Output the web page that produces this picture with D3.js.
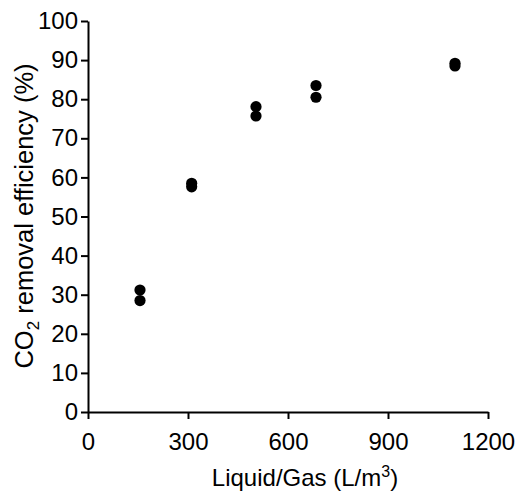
<!DOCTYPE html>
<html>
<head>
<meta charset="utf-8">
<script src="https://cdn.jsdelivr.net/npm/d3@7"></script>
<style>
  html, body { margin: 0; padding: 0; background: #fff; }
  svg { display: block; }
  text { font-family: "Liberation Sans", Arial, sans-serif; fill: #000; }
</style>
</head>
<body>
<svg id="chart" width="522" height="491"></svg>
<script>
// Liquid/gas ratio (L/m3) and measured CO2 removal efficiency (%), duplicate runs
const liquidGas = [156, 156, 311, 311, 504, 504, 684, 684, 1101, 1101];
const removalEff = [31.2, 28.5, 58.5, 57.6, 78.1, 75.7, 83.5, 80.5, 89.2, 88.5];

const xTicks = [0, 300, 600, 900, 1200];
const yTicks = [0, 10, 20, 30, 40, 50, 60, 70, 80, 90, 100];

const svg = d3.select("#chart");

const x = d3.scaleLinear().domain([0, 1200]).range([88, 488]);
const y = d3.scaleLinear().domain([0, 100]).range([412, 21]);

const xAxis = d3.axisBottom(x)
  .tickValues(xTicks)
  .tickFormat(d3.format("d"))
  .tickSize(7)
  .tickSizeOuter(0)
  .tickPadding(14);

const yAxis = d3.axisLeft(y)
  .tickValues(yTicks)
  .tickFormat(d3.format("d"))
  .tickSize(7)
  .tickSizeOuter(0)
  .tickPadding(3);

const gx = svg.append("g")
  .attr("transform", `translate(0,${y(0)})`)
  .call(xAxis);

const gy = svg.append("g")
  .attr("transform", `translate(${x(0)},0)`)
  .call(yAxis);

[gx, gy].forEach(g => {
  g.select(".domain").attr("stroke", "#000").attr("stroke-width", 2);
  g.selectAll(".tick line").attr("stroke", "#000").attr("stroke-width", 2);
  g.selectAll(".tick text")
    .attr("font-size", 24)
    .attr("font-family", "'Liberation Sans', Arial, sans-serif")
    .attr("fill", "#000");
});

// data points
svg.append("g")
  .selectAll("circle")
  .data(liquidGas.map((d, i) => ({ lg: d, eff: removalEff[i] })))
  .join("circle")
  .attr("cx", d => x(d.lg))
  .attr("cy", d => y(d.eff))
  .attr("r", 5.6)
  .attr("fill", "#000");

// x-axis title
const xt = svg.append("text")
  .attr("x", 305)
  .attr("y", 486)
  .attr("text-anchor", "middle")
  .attr("font-size", 24);
xt.append("tspan").text("Liquid/Gas (L/m");
xt.append("tspan").attr("font-size", 16).attr("dy", -9).text("3");
xt.append("tspan").attr("dy", 9).text(")");

// y-axis title
const yt = svg.append("text")
  .attr("transform", `translate(33,216) rotate(-90)`)
  .attr("text-anchor", "middle")
  .attr("font-size", 25.5);
yt.append("tspan").text("CO");
yt.append("tspan").attr("font-size", 17).attr("dy", 6).text("2");
yt.append("tspan").attr("dy", -6).text(" removal efficiency (%)");
</script>
</body>
</html>
